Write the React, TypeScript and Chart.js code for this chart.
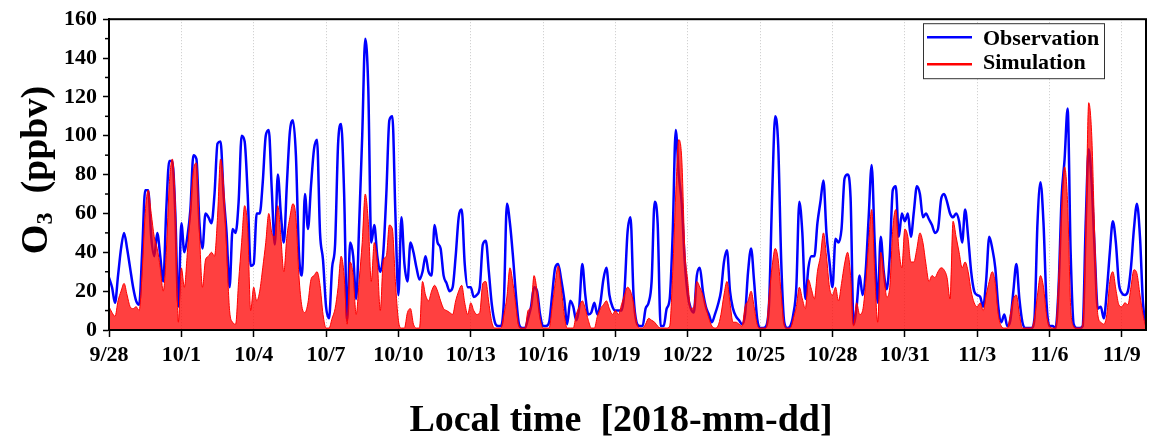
import React, { useEffect, useRef } from 'react';
import { Chart, registerables } from 'chart.js';

Chart.register(...registerables);

// sampling step of the series (hours), starting 2018-09-28 00:00
const STEP_HOURS = 3;
const TICK_EVERY_HOURS = 72;
const X_MAX_HOURS = 1032;

const tickLabels = ['9/28', '10/1', '10/4', '10/7', '10/10', '10/13', '10/16', '10/19', '10/22', '10/25', '10/28', '10/31', '11/3', '11/6', '11/9'];
const minorYTicks = [10, 30, 50, 70, 90, 110, 130, 150];

const observation = [
  27, 22, 14, 28, 42, 50, 42, 32, 22, 15, 13, 40, 72, 72, 48, 38, 50, 38, 25, 62, 87, 87, 60, 12, 55, 40, 48, 62, 90, 88, 55, 42, 60, 58, 55,
  70, 96, 97, 70, 50, 22, 52, 50, 66, 100, 97, 70, 33, 34, 60, 60, 76, 100, 103, 72, 44, 80, 60, 45, 75, 102, 108, 90, 40, 28, 70, 52, 74, 93, 98,
  50, 36, 12, 6, 32, 44, 96, 106, 70, 5, 45, 38, 16, 55, 100, 150, 125, 45, 54, 38, 30, 40, 70, 108, 110, 60, 18, 58, 34, 25, 45, 40, 32, 26, 30,
  38, 30, 28, 54, 45, 42, 28, 24, 20, 22, 38, 58, 62, 34, 22, 22, 17, 18, 22, 44, 46, 30, 13, 4, 2, 2, 15, 65, 55, 38, 18, 3, 1, 1, 6,
  12, 22, 20, 8, 2, 2, 4, 18, 32, 34, 26, 16, 3, 15, 12, 5, 12, 34, 18, 8, 9, 14, 8, 14, 26, 32, 18, 12, 10, 10, 10, 20, 50, 58, 18,
  4, 2, 2, 11, 14, 25, 66, 55, 2, 2, 11, 16, 50, 103, 80, 65, 35, 18, 11, 9, 28, 32, 20, 12, 8, 4, 8, 13, 20, 35, 41, 20, 11, 7, 5,
  3, 8, 30, 42, 25, 6, 1, 1, 2, 15, 70, 110, 95, 35, 4, 1, 2, 8, 22, 66, 50, 16, 32, 38, 38, 55, 66, 77, 50, 35, 22, 47, 45, 52, 78,
  80, 68, 3, 12, 28, 18, 30, 58, 85, 45, 14, 48, 30, 21, 38, 72, 74, 48, 60, 56, 60, 48, 61, 74, 70, 58, 60, 57, 54, 50, 52, 67, 70, 66, 60,
  58, 60, 56, 45, 62, 48, 30, 20, 18, 17, 12, 26, 48, 42, 32, 12, 4, 8, 2, 5, 20, 34, 16, 4, 1, 1, 1, 6, 55, 76, 55, 14, 2,
  2, 1, 22, 68, 88, 114, 40, 3, 1, 1, 2, 55, 93, 75, 40, 11, 12, 6, 20, 40, 56, 45, 24, 19, 18, 20, 32, 52, 65, 48, 14, 3,
];

const simulation = [
  12, 9, 7, 15, 20, 24, 18, 12, 11, 12, 10, 30, 60, 72, 60, 48, 42, 32, 20, 40, 75, 88, 65, 4, 32, 22, 40, 62, 82, 86, 50, 22, 36, 38, 40,
  38, 58, 88, 75, 42, 10, 4, 3, 25, 45, 64, 52, 10, 22, 15, 20, 32, 45, 60, 50, 48, 64, 48, 30, 48, 58, 65, 58, 28, 12, 9, 14, 26, 28, 30,
  23, 8, 1, 1, 6, 11, 22, 38, 28, 3, 35, 28, 8, 26, 45, 70, 56, 25, 45, 35, 10, 36, 38, 54, 52, 25, 5, 1, 1, 9, 11, 3, 1, 1, 25,
  18, 15, 20, 23, 20, 15, 11, 10, 9, 8, 15, 20, 23, 14, 8, 14, 10, 8, 9, 24, 25, 14, 4, 1, 1, 1, 8, 17, 32, 24, 12, 2, 1, 1, 10,
  12, 28, 20, 6, 1, 1, 1, 12, 24, 33, 22, 8, 1, 1, 1, 8, 12, 15, 11, 5, 1, 1, 7, 11, 13, 15, 11, 8, 10, 8, 13, 18, 22, 20, 14,
  4, 1, 1, 3, 6, 5, 4, 2, 1, 1, 1, 2, 30, 70, 98, 88, 42, 25, 11, 12, 25, 22, 18, 12, 6, 2, 1, 2, 8, 18, 25, 14, 4, 4, 3,
  2, 12, 15, 20, 12, 3, 1, 1, 1, 18, 33, 42, 36, 18, 3, 1, 1, 6, 12, 22, 16, 11, 26, 21, 16, 30, 38, 50, 38, 22, 18, 22, 15, 24, 34,
  40, 28, 2, 14, 8, 10, 24, 45, 62, 30, 4, 40, 30, 17, 22, 52, 62, 42, 32, 52, 48, 35, 35, 42, 50, 45, 34, 25, 28, 27, 30, 32, 31, 27, 16,
  56, 48, 40, 32, 35, 30, 20, 14, 12, 14, 10, 18, 25, 30, 24, 8, 2, 1, 1, 8, 16, 18, 8, 1, 1, 1, 1, 6, 18, 28, 22, 8, 2,
  1, 1, 26, 62, 84, 65, 12, 2, 1, 1, 3, 50, 117, 100, 48, 8, 4, 3, 8, 25, 30, 21, 13, 12, 14, 13, 22, 31, 29, 18, 8, 1,
];

const FONT = '"Liberation Serif", "Times New Roman", serif';

const overlayPlugin = {
  id: 'overlay',
  afterDatasetsDraw(chart: any) {
    const { ctx, chartArea: a, scales } = chart;
    ctx.save();
    // frame
    ctx.strokeStyle = '#000';
    ctx.lineWidth = 2;
    ctx.strokeRect(a.left, a.top, a.right - a.left, a.bottom - a.top);
    // minor y ticks
    ctx.lineWidth = 1.5;
    for (const v of minorYTicks) {
      const py = scales.y.getPixelForValue(v);
      ctx.beginPath();
      ctx.moveTo(a.left - 4, py);
      ctx.lineTo(a.left, py);
      ctx.stroke();
    }
    // legend box
    const bx = a.right - 223;
    const by = a.top + 4;
    ctx.fillStyle = '#fff';
    ctx.fillRect(bx, by, 181, 55);
    ctx.strokeStyle = '#333';
    ctx.lineWidth = 1;
    ctx.strokeRect(bx + 0.5, by + 0.5, 181, 55);
    ctx.lineWidth = 2.5;
    ctx.strokeStyle = '#0000ff';
    ctx.beginPath();
    ctx.moveTo(bx + 4, by + 14);
    ctx.lineTo(bx + 49, by + 14);
    ctx.stroke();
    ctx.strokeStyle = '#ff0000';
    ctx.beginPath();
    ctx.moveTo(bx + 4, by + 41);
    ctx.lineTo(bx + 49, by + 41);
    ctx.stroke();
    ctx.fillStyle = '#000';
    ctx.font = `bold 22px ${FONT}`;
    ctx.textAlign = 'left';
    ctx.textBaseline = 'alphabetic';
    ctx.fillText('Observation', bx + 60, by + 22);
    ctx.fillText('Simulation', bx + 60, by + 46);

    // x title
    ctx.font = `bold 38px ${FONT}`;
    ctx.textAlign = 'center';
    ctx.fillText('Local time  [2018-mm-dd]', 621, 431);

    // y title with subscript
    ctx.save();
    ctx.translate(35, 170);
    ctx.rotate(-Math.PI / 2);
    ctx.textAlign = 'left';
    const big = `bold 38px ${FONT}`;
    const small = `bold 24px ${FONT}`;
    ctx.font = big;
    const wO = ctx.measureText('O').width;
    const rest = '  (ppbv)';
    const wRest = ctx.measureText(rest).width;
    ctx.font = small;
    const w3 = ctx.measureText('3').width;
    const x0 = -(wO + w3 + wRest) / 2;
    const base = 12;
    ctx.font = big;
    ctx.fillText('O', x0, base);
    ctx.font = small;
    ctx.fillText('3', x0 + wO, base + 5);
    ctx.font = big;
    ctx.fillText(rest, x0 + wO + w3, base);
    ctx.restore();

    ctx.restore();
  },
};

export default function App() {
  const ref = useRef<HTMLCanvasElement>(null);
  useEffect(() => {
    document.body.style.margin = '0';
    const toPts = (arr: number[]) => arr.map((v, i) => ({ x: i * STEP_HOURS, y: v }));
    const tickFont = { family: FONT, size: 22, weight: 'bold' as const };
    const chart = new Chart(ref.current as HTMLCanvasElement, {
      type: 'line',
      data: {
        datasets: [
          {
            label: 'Observation',
            data: toPts(observation),
            borderColor: '#0000ff',
            borderWidth: 2.5,
            pointRadius: 0,
            fill: false,
            order: 1,
            cubicInterpolationMode: 'monotone',
          },
          {
            label: 'Simulation',
            data: toPts(simulation),
            borderColor: '#ff0000',
            borderWidth: 1,
            backgroundColor: 'rgba(255,0,0,0.75)',
            fill: 'origin',
            pointRadius: 0,
            order: 0,
            cubicInterpolationMode: 'monotone',
          },
        ],
      },
      options: {
        animation: false,
        responsive: false,
        devicePixelRatio: 1,
        events: [],
        layout: { padding: { top: 18, right: 5, left: 0, bottom: 0 } },
        plugins: { legend: { display: false }, tooltip: { enabled: false } },
        scales: {
          x: {
            type: 'linear',
            min: 0,
            max: X_MAX_HOURS,
            afterBuildTicks: (s: any) => {
              s.ticks = tickLabels.map((_, i) => ({ value: i * TICK_EVERY_HOURS }));
            },
            afterFit: (s: any) => {
              s.height = 114;
            },
            ticks: {
              callback: (_v: any, i: number) => tickLabels[i] ?? '',
              font: tickFont,
              color: '#000',
              padding: 5,
              maxRotation: 0,
              autoSkip: false,
            },
            grid: { color: '#c8c8c8', lineWidth: 1, tickColor: '#000', tickLength: 7, tickWidth: 1.5 },
            border: { display: true, color: '#000', width: 2, dash: [1, 2] },
          },
          y: {
            min: 0,
            max: 160,
            afterFit: (s: any) => {
              s.width = 109;
            },
            ticks: { stepSize: 20, font: tickFont, color: '#000', padding: 6 },
            grid: { drawOnChartArea: false, tickColor: '#000', tickLength: 6, tickWidth: 1.5 },
            border: { display: true, color: '#000', width: 2 },
          },
        },
      },
      plugins: [overlayPlugin],
    });
    return () => chart.destroy();
  }, []);
  return (
    <div style={{ position: 'absolute', left: 0, top: 0 }}>
      <canvas ref={ref} width={1151} height={444} style={{ display: 'block' }} />
    </div>
  );
}
